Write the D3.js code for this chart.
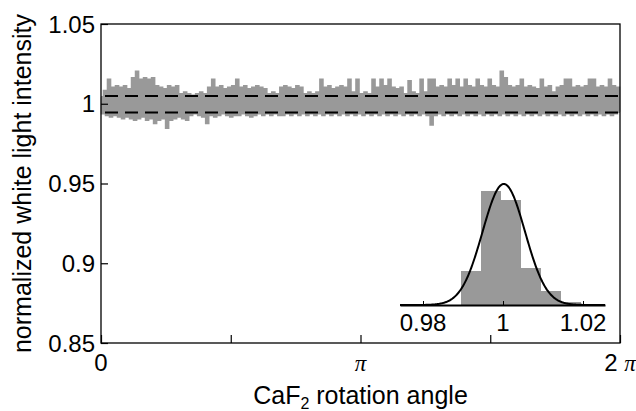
<!DOCTYPE html>
<html><head><meta charset="utf-8">
<script src="https://cdn.jsdelivr.net/npm/d3@7"></script>
<style>body{margin:0;background:#fff} svg{display:block}</style>
</head><body>
<svg id="c" width="636" height="411"></svg>
<script>
// measured normalized intensity, uniformly sampled over 0..2π
const intensity = [
1.004,0.994,1.008,0.993,1.015,0.992,1.010,0.993,1.011,0.992,
1.010,0.991,1.011,0.992,1.009,0.991,1.016,0.990,1.020,0.991,
1.015,0.992,1.016,0.990,1.015,0.991,1.016,0.988,1.011,0.990,
1.010,0.991,1.009,0.985,1.011,0.990,1.010,0.991,1.011,0.992,
1.006,0.991,1.007,0.990,1.006,0.993,1.005,0.994,1.006,0.993,
1.007,0.992,1.006,0.988,1.010,0.993,1.015,0.992,1.010,0.993,
1.011,0.994,1.009,0.993,1.010,0.992,1.011,0.993,1.015,0.993,
1.010,0.994,1.011,0.993,1.009,0.992,1.010,0.993,1.011,0.994,
1.010,0.993,1.009,0.994,1.006,0.993,1.007,0.994,1.006,0.993,
1.010,0.993,1.011,0.994,1.010,0.993,1.009,0.994,1.011,0.993,
1.010,0.994,1.006,0.993,1.007,0.994,1.006,0.993,1.007,0.994,
1.015,0.993,1.010,0.994,1.011,0.993,1.009,0.994,1.010,0.993,
1.011,0.994,1.010,0.993,1.015,0.994,1.007,0.993,1.015,0.994,
1.006,0.993,1.007,0.994,1.006,0.993,1.015,0.994,1.010,0.993,
1.015,0.994,1.011,0.993,1.015,0.994,1.010,0.993,1.009,0.994,
1.010,0.993,1.006,0.994,1.014,0.993,1.007,0.994,1.006,0.993,
1.015,0.994,1.007,0.993,1.015,0.987,1.015,0.993,1.010,0.994,
1.011,0.993,1.010,0.994,1.015,0.993,1.011,0.994,1.015,0.993,
1.010,0.994,1.015,0.993,1.011,0.994,1.010,0.993,1.015,0.994,
1.011,0.993,1.010,0.994,1.015,0.993,1.011,0.994,1.010,0.993,
1.020,0.994,1.016,0.993,1.011,0.994,1.010,0.993,1.011,0.994,
1.015,0.993,1.010,0.994,1.011,0.993,1.010,0.994,1.009,0.993,
1.015,0.994,1.010,0.993,1.011,0.994,1.007,0.993,1.010,0.994,
1.011,0.993,1.015,0.994,1.015,0.993,1.010,0.994,1.011,0.993,
1.010,0.994,1.011,0.993,1.015,0.994,1.015,0.993,1.010,0.994,
1.011,0.993,1.010,0.994,1.015,0.993,1.011,0.994,1.010,0.995
];
const yTickValues = [0.85, 0.9, 0.95, 1, 1.05];
const yTickLabels = ["0.85", "0.9", "0.95", "1", "1.05"];
const xTickValues = [0, Math.PI / 2, Math.PI, 3 * Math.PI / 2, 2 * Math.PI];
const xTickLabels = ["0", "", "π", "", "2 π"];
const sigmaLevels = [0.9945, 1.0049];
// inset histogram
const histBinStart = [0.9895, 0.9945, 0.9995, 1.0045, 1.0095, 1.0145];
const histBinWidth = 0.005;
const histCounts = [34, 114, 105, 37, 14, 3];
const insetTickValues = [0.98, 1, 1.02];
const insetTickLabels = ["0.98", "1", "1.02"];
const gaussMean = 1.0002, gaussSigma = 0.0053, gaussPeak = 121;

const svg = d3.select("#c");
const FS = 24, FT = 25, FONT = "'Liberation Sans', Arial, Helvetica, sans-serif";
const L = 101, R = 620, T = 24, B = 343;

const x = d3.scaleLinear().domain([0, 2 * Math.PI]).range([L, R]);
const y = d3.scaleLinear().domain([0.85, 1.05]).range([B, T]);

function label(parent, px, py, txt, anchor, rot, fs) {
  const g = parent.append("g").attr("transform", `translate(${px},${py})` + (rot ? ` rotate(${rot})` : ""));
  return g.append("text").attr("text-anchor", anchor).attr("font-family", FONT)
    .attr("font-size", fs || FS).attr("fill", "#000").text(txt);
}

// data
const n = intensity.length;
const pts = intensity.map((v, i) => [i * 2 * Math.PI / (n - 1), v]);
svg.append("path").datum(pts)
  .attr("d", d3.line().x(d => x(d[0])).y(d => y(d[1])).curve(d3.curveStep))
  .attr("fill", "none").attr("stroke", "#999").attr("stroke-width", 2.6);

// sigma dashed lines
svg.selectAll("line.sig").data(sigmaLevels).join("line")
  .attr("x1", L).attr("x2", R).attr("y1", d => y(d)).attr("y2", d => y(d))
  .attr("stroke", "#000").attr("stroke-width", 2)
  .attr("stroke-dasharray", "13,7").attr("stroke-dashoffset", 16);

// frame
svg.append("rect").attr("x", L).attr("y", T).attr("width", R - L).attr("height", B - T)
  .attr("fill", "none").attr("stroke", "#000").attr("stroke-width", 1.3);

// axes ticks (inward)
const ax = svg.append("g").attr("transform", `translate(0,${B})`)
  .call(d3.axisBottom(x).tickValues(xTickValues).tickSizeInner(-8).tickSizeOuter(0).tickFormat(""));
const ay = svg.append("g").attr("transform", `translate(${L},0)`)
  .call(d3.axisLeft(y).tickValues(yTickValues).tickSizeInner(-7).tickSizeOuter(0).tickFormat(""));
[ax, ay].forEach(g => { g.select(".domain").remove(); g.selectAll("line").attr("stroke", "#000").attr("stroke-width", 1.2); });

// tick labels
yTickValues.forEach((v, i) => label(svg, 95, y(v) + 8.5, yTickLabels[i], "end"));
xTickValues.forEach((v, i) => {
  const t = xTickLabels[i];
  if (!t) return;
  const g = svg.append("g").attr("transform", `translate(${x(v)},${B + 28})`);
  const te = g.append("text").attr("text-anchor", "middle").attr("font-family", FONT).attr("font-size", FS);
  t.split(/(π)/).filter(s => s).forEach(s => {
    const sp = te.append("tspan").text(s);
    if (s === "π") sp.attr("font-family", "'Liberation Serif', 'Times New Roman', serif").attr("font-style", "italic").attr("font-size", 23);
  });
});

// axis titles
{
  const g = svg.append("g").attr("transform", `translate(${(L + R) / 2},404)`);
  const te = g.append("text").attr("text-anchor", "middle").attr("font-family", FONT).attr("font-size", FT);
  te.append("tspan").text("CaF");
  te.append("tspan").text("2").attr("font-size", 16).attr("baseline-shift", "-5");
  te.append("tspan").text(" rotation angle");
}
label(svg, 31, (T + B) / 2, "normalized white light intensity", "middle", -90, FT);

// inset
const xi = d3.scaleLinear().domain([0.97425, 1.0255]).range([400, 605]);
const yi = d3.scaleLinear().domain([0, gaussPeak]).range([305, 184]);
const ins = svg.append("g");
ins.selectAll("rect").data(histBinStart).join("rect")
  .attr("x", d => xi(d)).attr("width", xi(histBinStart[0] + histBinWidth) - xi(histBinStart[0]))
  .attr("y", (d, i) => yi(histCounts[i])).attr("height", (d, i) => yi(0) - yi(histCounts[i]))
  .attr("fill", "#999");
const gx = d3.range(0, 401).map(k => xi.domain()[0] + k * (xi.domain()[1] - xi.domain()[0]) / 400);
ins.append("path").datum(gx)
  .attr("d", d3.line().x(d => xi(d)).y(d => yi(gaussPeak * Math.exp(-0.5 * ((d - gaussMean) / gaussSigma) ** 2))).curve(d3.curveBasis))
  .attr("fill", "none").attr("stroke", "#000").attr("stroke-width", 2);
const iax = ins.append("g").attr("transform", "translate(0,305)")
  .call(d3.axisBottom(xi).tickValues(insetTickValues).tickSizeInner(-4).tickSizeOuter(0).tickFormat(""));
iax.select(".domain").attr("stroke", "#000").attr("stroke-width", 1.8);
iax.selectAll("line").attr("stroke", "#000").attr("stroke-width", 1);
insetTickValues.forEach((v, i) => label(ins, xi(v), 331, insetTickLabels[i], "middle"));
</script>
</body></html>
